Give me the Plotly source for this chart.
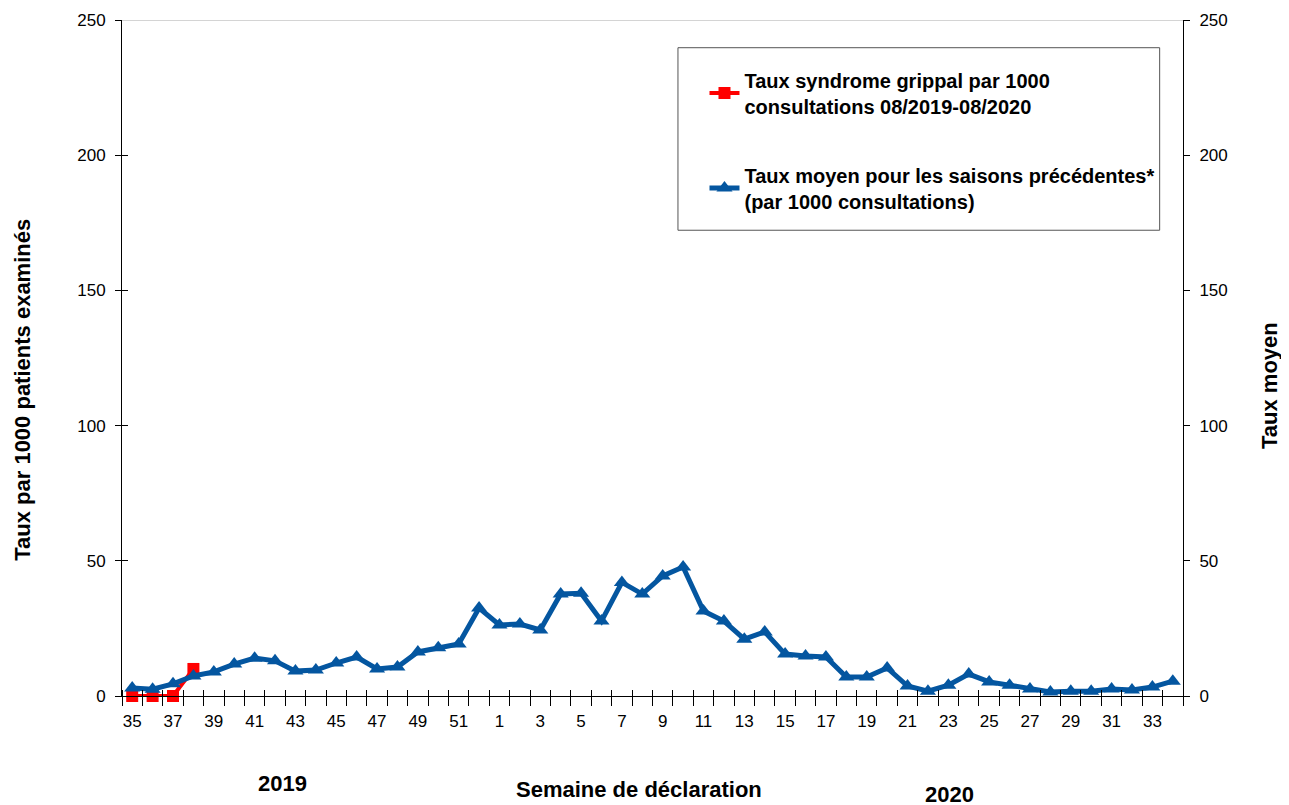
import plotly.graph_objects as go

# semaines de déclaration 35/2019 -> 34/2020
weeks = [str(w) for w in range(35, 53)] + [str(w) for w in range(1, 35)]

taux_moyen = [3, 2.5, 4.5, 7.4, 8.9, 11.8, 14, 13, 9.2, 9.6, 12.2, 14.4, 10, 10.7,
              16.3, 17.8, 19.2, 32.5, 26.3, 26.6, 24.4, 37.7, 38, 27.7, 42, 37.7,
              44.4, 47.7, 31.4, 27.7, 21, 23.7, 15.5, 14.8, 14.4, 7, 7, 10.4, 3.7,
              1.8, 4, 8.1, 5.2, 4, 2.6, 1.5, 1.8, 1.8, 2.6, 2.2, 3.3, 5.5]

taux_sg = [0, 0, 0, 10]

tick_text = [w if i % 2 == 0 else "" for i, w in enumerate(weeks)]
x_idx = list(range(len(weeks)))

FONT = "Liberation Sans, Arial, sans-serif"
RED = "#ff0000"
BLUE = "#0456a0"

fig = go.Figure()

fig.add_trace(go.Scatter(
    x=x_idx[:len(taux_sg)], y=taux_sg,
    mode="lines+markers",
    name="<b>Taux syndrome grippal par 1000<br>consultations 08/2019-08/2020</b>",
    legendgroup="a",
    line=dict(color=RED, width=4),
    marker=dict(symbol="square", size=12, color=RED),
    cliponaxis=False,
))

fig.add_trace(go.Scatter(
    x=x_idx, y=taux_moyen,
    mode="lines+markers",
    name="<b>Taux moyen pour les saisons précédentes*<br>(par 1000 consultations)</b>",
    legendgroup="b",
    line=dict(color=BLUE, width=5),
    marker=dict(symbol="triangle-up", size=14, color=BLUE),
    cliponaxis=False,
))

# axes auxiliaires (échelle de droite + graduations traversantes)
fig.add_trace(go.Scatter(x=[0], y=[0], yaxis="y2", showlegend=False,
                         mode="markers", marker=dict(opacity=0), hoverinfo="skip"))
fig.add_trace(go.Scatter(x=[0], y=[0], xaxis="x2", yaxis="y3", showlegend=False,
                         mode="markers", marker=dict(opacity=0), hoverinfo="skip"))

axis_common = dict(showgrid=False, zeroline=False, automargin=False)


def label(text, x, y, angle=0):
    return dict(text=f"<b>{text}</b>", x=x, y=y, xref="paper", yref="paper",
                xanchor="center", yanchor="middle", textangle=angle,
                showarrow=False, font=dict(size=22))


fig.update_layout(
    width=1289, height=805,
    paper_bgcolor="white", plot_bgcolor="white",
    font=dict(family=FONT, size=17, color="black"),
    margin=dict(l=114, r=114, t=12, b=117),
    xaxis=dict(
        range=[-0.5, 51.5],
        tickvals=x_idx, ticktext=tick_text,
        ticks="", ticklabelstandoff=10,
        showline=True, linecolor="black", linewidth=1,
        minor=dict(ticks="outside", tick0=-0.5, dtick=1, ticklen=9,
                   tickcolor="black", showgrid=False),
        **axis_common,
    ),
    xaxis2=dict(
        range=[-0.5, 51.5], overlaying="x", side="bottom",
        showticklabels=False, ticks="", showline=False,
        minor=dict(ticks="inside", tick0=-0.5, dtick=1, ticklen=6,
                   tickcolor="black", showgrid=False),
        **axis_common,
    ),
    yaxis=dict(
        range=[0, 250], dtick=50,
        ticks="outside", ticklen=6, tickcolor="black", ticklabelstandoff=6,
        showline=True, linecolor="black", linewidth=1,
        **axis_common,
    ),
    yaxis3=dict(
        range=[0, 250], dtick=50, overlaying="y", side="left",
        ticks="inside", ticklen=6, tickcolor="black",
        showticklabels=False, showline=False,
        **axis_common,
    ),
    yaxis2=dict(
        range=[0, 250], dtick=50, overlaying="y", side="right",
        ticks="outside", ticklen=6, tickcolor="black", ticklabelstandoff=6,
        showline=True, linecolor="black", linewidth=1,
        **axis_common,
    ),
    legend=dict(
        x=0.549, y=0.94, xanchor="left", yanchor="top",
        bgcolor="rgba(0,0,0,0)", borderwidth=0,
        font=dict(size=20),
        tracegroupgap=40,
    ),
    shapes=[
        dict(type="line", xref="paper", yref="y", x0=0, x1=1, y0=250, y1=250,
             line=dict(color="#aaaaaa", width=1)),
        dict(type="rect", xref="paper", yref="paper",
             x0=0.524, x1=0.978, y0=0.689, y1=0.959,
             line=dict(color="#555555", width=1), fillcolor="white", layer="below"),
    ],
    annotations=[
        label("Semaine de déclaration", 0.487, -0.139),
        label("2019", 0.151, -0.129),
        label("2020", 0.780, -0.146),
        label("Taux par 1000 patients examinés", -0.0933, 0.453, -90),
        label("Taux moyen", 1.081, 0.460, -90),
    ],
)

fig.write_html("out.html")
